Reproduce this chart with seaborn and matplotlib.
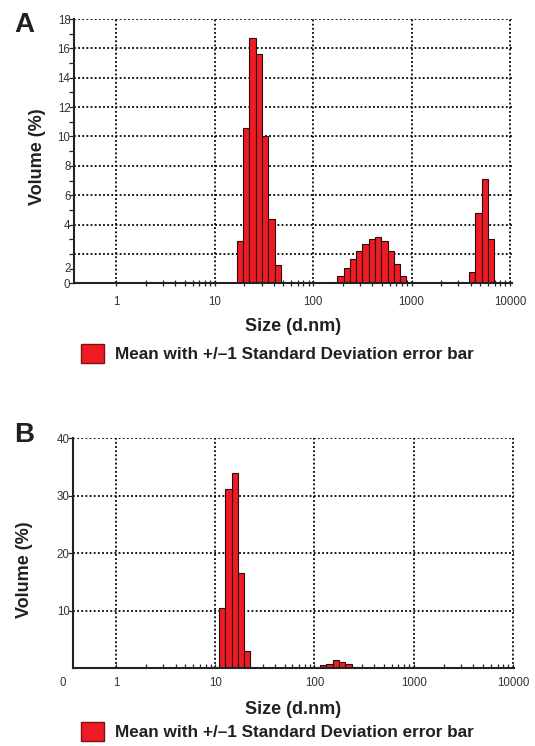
import numpy as np
import matplotlib
matplotlib.use('Agg')
import matplotlib.pyplot as plt
from matplotlib.patches import Patch
from matplotlib.ticker import FixedLocator, MultipleLocator, NullFormatter
import seaborn as sns

# 데이터: Malvern size bin (d.nm) / volume (%)
size_a = [18.17, 21.04, 24.36, 28.21, 32.67, 37.84, 43.82,
          164.2, 190.1, 220.2, 255.0, 295.3, 342.0, 396.1, 458.7, 531.2, 615.1, 712.4, 825.0,
          4145, 4801, 5560, 6439]
vol_a = [2.9, 10.6, 16.7, 15.6, 10.0, 4.4, 1.25,
         0.1, 0.5, 1.04, 1.63, 2.18, 2.66, 3.0, 3.13, 2.9, 2.22, 1.32, 0.5,
         0.75, 4.77, 7.09, 3.0]

size_b = [11.7, 13.54, 15.69, 18.17, 21.04,
          122.4, 141.8, 164.2, 190.1, 220.2, 255.0]
vol_b = [10.5, 31.1, 34.0, 16.5, 3.0,
         0.5, 0.75, 1.4, 1.1, 0.75, 0.2]

x_ticks = [1, 10, 100, 1000, 10000]
x_tick_labels = ['1', '10', '100', '1000', '10000']
y_ticks_a = [0, 2, 4, 6, 8, 10, 12, 14, 16, 18]
y_tick_labels_a = ['0', '', '4', '6', '8', '10', '12', '14', '16', '18']
y_ticks_b = [10, 20, 30, 40]
y_tick_labels_b = ['10', '20', '30', '40']
x_label = 'Size (d.nm)'
y_label = 'Volume (%)'
legend_label = 'Mean with +/\u20131 Standard Deviation error bar'

sns.set_style('white')
plt.rcParams['font.family'] = ['Liberation Sans', 'DejaVu Sans']

RED = '#ed1c24'
EDGE = '#2a0a0a'
TXT = '#231f20'

# 장비 bin grid (0.4 ~ 10000 nm, 70 bins), log10 단위의 bin 경계
grid = np.geomspace(0.4, 10000, 70)
step = np.log10(grid[1] / grid[0])
log_edges = np.append(np.log10(grid) - step / 2, np.log10(grid[-1]) + step / 2).tolist()
minor_x = [m * 10 ** e for e in range(4) for m in range(2, 10)]

fig = plt.figure(figsize=(5.35, 7.46), dpi=100)
ax_a = fig.add_axes([0.1374, 0.6202, 0.8196, 0.3543])
ax_b = fig.add_axes([0.1359, 0.1042, 0.8248, 0.3083])


def style_axes(ax, xlim, ylim, yticks, ylabels, tick_dir, tick_len, xpad):
    ax.set_xlim(*xlim)
    ax.set_ylim(*ylim)
    ax.set_xticks(x_ticks)
    ax.set_xticklabels(x_tick_labels)
    ax.xaxis.set_minor_locator(FixedLocator(minor_x))
    ax.xaxis.set_minor_formatter(NullFormatter())
    ax.set_yticks(yticks)
    ax.set_yticklabels(ylabels)
    ax.grid(True, which='major', color='black', linestyle=(0, (1, 1.3)), linewidth=1.3)
    ax.set_axisbelow(True)
    for s in ['top', 'right']:
        ax.spines[s].set_visible(False)
    for s in ['left', 'bottom']:
        ax.spines[s].set_linewidth(1.5)
        ax.spines[s].set_color('#222222')
    ax.tick_params(axis='x', which='both', bottom=True, direction=tick_dir,
                   length=tick_len, width=0.9, color='#222222', labelsize=8.3,
                   labelcolor='#333333', pad=xpad)
    ax.tick_params(axis='y', which='both', left=True, direction='out',
                   length=3.6, width=0.9, color='#222222', labelsize=8.3,
                   labelcolor='#333333', pad=-1.4)
    ax.set_xlabel(x_label, fontsize=13, fontweight='bold', color=TXT)
    ax.set_ylabel(y_label, fontsize=13, fontweight='bold', color=TXT)


# A 패널
sns.histplot(x=size_a, weights=vol_a, bins=log_edges, log_scale=True,
             color=RED, edgecolor=EDGE, linewidth=0.8, alpha=1, ax=ax_a)
style_axes(ax_a, (0.370, 10479), (0, 18), y_ticks_a, y_tick_labels_a, 'inout', 4.6, 6.5)
ax_a.yaxis.set_minor_locator(MultipleLocator(1))
ax_a.text(-0.0064, 1, '2', transform=ax_a.get_yaxis_transform(), ha='right',
          va='center', fontsize=8.3, color='#333333')
ax_a.xaxis.set_label_coords(0.5, -0.131)
ax_a.yaxis.set_label_coords(-0.063, 0.48)

# B 패널
sns.histplot(x=size_b, weights=vol_b, bins=log_edges, log_scale=True,
             color=RED, edgecolor=EDGE, linewidth=0.8, alpha=1, ax=ax_b)
style_axes(ax_b, (0.366, 10235), (0, 40), y_ticks_b, y_tick_labels_b, 'in', 3.0, 6.5)
ax_b.text(-0.022, -0.066, '0', transform=ax_b.transAxes, ha='center',
          va='center', fontsize=8.3, color='#333333')
ax_b.xaxis.set_label_coords(0.5, -0.142)
ax_b.yaxis.set_label_coords(-0.089, 0.43)

# 패널 라벨
fig.text(0.027, 0.9575, 'A', fontsize=20, fontweight='bold', color=TXT)
fig.text(0.027, 0.408, 'B', fontsize=20, fontweight='bold', color=TXT)

# 범례
for top in [1 - 344 / 746, 1 - 721.7 / 746]:
    fig.legend(handles=[Patch(facecolor=RED, edgecolor='#7a1416', linewidth=1)],
               labels=[legend_label], loc='upper left',
               bbox_to_anchor=(80.7 / 535, top), frameon=False, borderpad=0,
               borderaxespad=0, handlelength=1.34, handleheight=1.34,
               handletextpad=0.68, labelcolor=TXT,
               prop={'weight': 'bold', 'size': 12.3})

fig.savefig('out.png', dpi=100)
